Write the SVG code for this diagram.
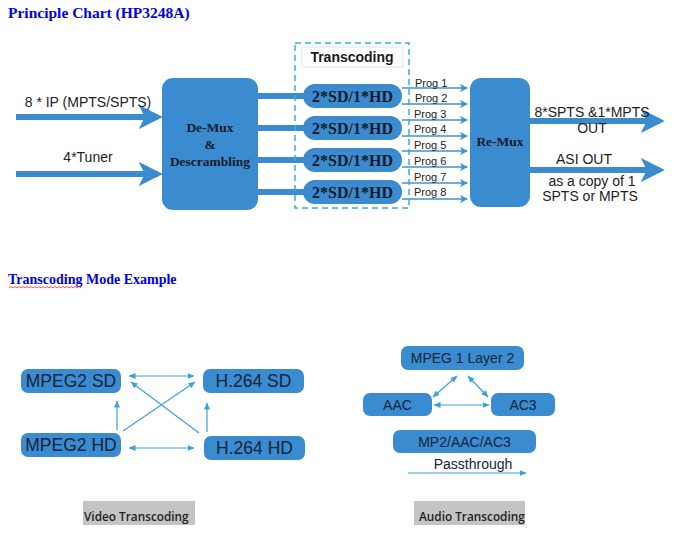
<svg xmlns="http://www.w3.org/2000/svg" width="674" height="538" viewBox="0 0 674 538">
<defs>
<style>
.title{font-family:"Liberation Serif",serif;font-weight:bold;font-size:14px;fill:#0000ee}
.box{fill:#3a8bd0}
.bt{font-family:"Liberation Serif",serif;font-weight:bold;font-size:13.5px;fill:#1a1a2a;text-anchor:middle}
.pill{font-family:"Liberation Serif",serif;font-weight:bold;font-size:16px;fill:#111a2a;text-anchor:middle}
.lab{font-family:"Liberation Sans",Arial,sans-serif;font-size:14px;fill:#222;text-anchor:middle}
.prog{font-family:"Liberation Sans",Arial,sans-serif;font-size:11px;fill:#222}
.thick{stroke:#3a8bd0;stroke-width:6;fill:none}
.thin{stroke:#3b93d8;stroke-width:1.4;fill:none}
.lt{stroke:#3aa2dc;stroke-width:1.2;fill:none}
.vt{font-family:"Liberation Sans",Arial,sans-serif;font-size:17.5px;fill:#14243a;text-anchor:middle}
.at{font-family:"Liberation Sans",Arial,sans-serif;font-size:14px;fill:#14243a;text-anchor:middle}
.cap{font-family:"Open Sans","DejaVu Sans",sans-serif;font-weight:600;font-size:11.8px;fill:#222}
</style>
<marker id="big" markerWidth="4" markerHeight="4" refX="3.2" refY="2" orient="auto" markerUnits="strokeWidth">
<path d="M0,0 L4,2 L0,4 L1,2 z" fill="#3a8bd0"/>
</marker>
<marker id="sm" markerWidth="8" markerHeight="8" refX="7" refY="4" orient="auto" markerUnits="userSpaceOnUse">
<path d="M0,0 L8,4 L0,8 L2,4 z" fill="#3b93d8"/>
</marker>
<marker id="ah" markerWidth="7" markerHeight="6" refX="6.5" refY="3" orient="auto-start-reverse" markerUnits="userSpaceOnUse">
<path d="M0,0 L7,3 L0,6 z" fill="#3aa2dc"/>
</marker>
</defs>
<rect width="674" height="538" fill="#ffffff"/>

<text class="title" x="8" y="18" style="font-size:15.5px">Principle Chart (HP3248A)</text>

<g id="connectors">
<line class="thick" x1="16" y1="117" x2="158" y2="117" marker-end="url(#big)"/>
<line class="thick" x1="16" y1="174" x2="158" y2="174" marker-end="url(#big)"/>
<line class="thick" x1="258" y1="96" x2="305" y2="96"/>
<line class="thick" x1="258" y1="128" x2="305" y2="128"/>
<line class="thick" x1="258" y1="160" x2="305" y2="160"/>
<line class="thick" x1="258" y1="192" x2="305" y2="192"/>
<line class="thin" x1="402" y1="88" x2="467" y2="88" marker-end="url(#sm)"/>
<line class="thin" x1="402" y1="104" x2="467" y2="104" marker-end="url(#sm)"/>
<line class="thin" x1="402" y1="120" x2="467" y2="120" marker-end="url(#sm)"/>
<line class="thin" x1="402" y1="136" x2="467" y2="136" marker-end="url(#sm)"/>
<line class="thin" x1="402" y1="151" x2="467" y2="151" marker-end="url(#sm)"/>
<line class="thin" x1="402" y1="167" x2="467" y2="167" marker-end="url(#sm)"/>
<line class="thin" x1="402" y1="183" x2="467" y2="183" marker-end="url(#sm)"/>
<line class="thin" x1="402" y1="199" x2="467" y2="199" marker-end="url(#sm)"/>
<line class="thick" x1="530" y1="121" x2="660" y2="121" marker-end="url(#big)"/>
<line class="thick" x1="530" y1="170" x2="660" y2="170" marker-end="url(#big)"/>

<line class="lt" x1="129" y1="376" x2="194" y2="376" marker-start="url(#ah)" marker-end="url(#ah)"/>
<line class="lt" x1="129" y1="448" x2="194" y2="448" marker-start="url(#ah)" marker-end="url(#ah)"/>
<line class="lt" x1="117" y1="430" x2="117" y2="401" marker-end="url(#ah)"/>
<line class="lt" x1="207" y1="432" x2="207" y2="403" marker-end="url(#ah)"/>
<line class="lt" x1="123" y1="431" x2="195" y2="382" marker-end="url(#ah)"/>
<line class="lt" x1="199" y1="433" x2="131" y2="382" marker-end="url(#ah)"/>

<line class="lt" x1="434" y1="405" x2="489" y2="405" marker-start="url(#ah)" marker-end="url(#ah)"/>
<line class="lt" x1="457" y1="376" x2="433" y2="397" marker-start="url(#ah)" marker-end="url(#ah)"/>
<line class="lt" x1="468" y1="376" x2="488" y2="397" marker-start="url(#ah)" marker-end="url(#ah)"/>
<line class="lt" x1="408" y1="473" x2="526" y2="473" marker-end="url(#ah)"/>
</g>

<text class="lab" x="88" y="107">8 * IP (MPTS/SPTS)</text>
<text class="lab" x="88" y="162">4*Tuner</text>

<g id="demux">
<rect class="box" x="162" y="78" width="96" height="132" rx="11"/>
<text class="bt" x="210" y="132">De-Mux</text>
<text class="bt" x="210" y="149">&amp;</text>
<text class="bt" x="210" y="166">Descrambling</text>
</g>

<g id="transcoding">
<rect x="295" y="43" width="114" height="165" fill="none" stroke="#2fb0e6" stroke-width="1.5" stroke-dasharray="6,4"/>
<rect x="302" y="47" width="101" height="20" fill="#fff" stroke="#d8e8f0" stroke-width="1"/>
<text x="352" y="62" font-family="Liberation Sans, Arial, sans-serif" font-weight="bold" font-size="14" fill="#1a1a1a" text-anchor="middle">Transcoding</text>
</g>

<g id="tc1"><rect class="box" x="303" y="84" width="99" height="24" rx="12"/><text class="pill" x="352.5" y="102">2*SD/1*HD</text></g>
<g id="tc2"><rect class="box" x="303" y="116" width="99" height="24" rx="12"/><text class="pill" x="352.5" y="134">2*SD/1*HD</text></g>
<g id="tc3"><rect class="box" x="303" y="148" width="99" height="24" rx="12"/><text class="pill" x="352.5" y="166">2*SD/1*HD</text></g>
<g id="tc4"><rect class="box" x="303" y="180" width="99" height="24" rx="12"/><text class="pill" x="352.5" y="198">2*SD/1*HD</text></g>

<g id="prog-labels">
<text class="prog" x="415" y="87">Prog 1</text>
<text class="prog" x="415" y="102">Prog 2</text>
<text class="prog" x="414" y="118">Prog 3</text>
<text class="prog" x="414" y="133">Prog 4</text>
<text class="prog" x="414" y="149">Prog 5</text>
<text class="prog" x="414" y="165">Prog 6</text>
<text class="prog" x="414" y="181">Prog 7</text>
<text class="prog" x="414" y="196">Prog 8</text>
</g>

<g id="remux">
<rect class="box" x="470" y="78" width="60" height="129" rx="11"/>
<text class="bt" x="500" y="146">Re-Mux</text>
</g>

<text class="lab" x="592" y="117">8*SPTS &amp;1*MPTS</text>
<text class="lab" x="592" y="133">OUT</text>
<text class="lab" x="584" y="164">ASI OUT</text>
<text class="lab" x="592" y="186">as a copy of 1</text>
<text class="lab" x="590" y="201">SPTS or MPTS</text>

<text class="title" x="8" y="284">Transcoding Mode Example</text>
<path d="M9,288 l2,-1.5 l2,1.5 l2,-1.5 l2,1.5 l2,-1.5 l2,1.5 l2,-1.5 l2,1.5 l2,-1.5 l2,1.5 l2,-1.5 l2,1.5 l2,-1.5 l2,1.5 l2,-1.5 l2,1.5 l2,-1.5 l2,1.5 l2,-1.5 l2,1.5 l2,-1.5 l2,1.5 l2,-1.5 l2,1.5 l2,-1.5 l2,1.5 l2,-1.5 l2,1.5 l2,-1.5 l2,1.5 l2,-1.5 l2,1.5 l2,-1.5 l2,1.5 l2,-1.5 l2,1.5" fill="none" stroke="#e03030" stroke-width="0.8"/>

<g id="mpeg2sd"><rect class="box" x="21" y="369" width="100" height="24" rx="7"/><text class="vt" x="71" y="387">MPEG2 SD</text></g>
<g id="h264sd"><rect class="box" x="203" y="369" width="101" height="24" rx="7"/><text class="vt" x="253.5" y="387">H.264 SD</text></g>
<g id="mpeg2hd"><rect class="box" x="21" y="433" width="100" height="24" rx="7"/><text class="vt" x="71" y="451">MPEG2 HD</text></g>
<g id="h264hd"><rect class="box" x="204" y="436" width="101" height="24" rx="7"/><text class="vt" x="254.5" y="454">H.264 HD</text></g>

<g id="video-caption"><rect x="83" y="501" width="112" height="24" fill="#c4c4c4"/><text class="cap" x="84" y="521">Video Transcoding</text></g>

<g id="mpeg1l2"><rect class="box" x="401" y="346" width="123" height="24" rx="7"/><text class="at" x="462.5" y="363">MPEG 1 Layer 2</text></g>
<g id="aac"><rect class="box" x="363" y="393" width="69" height="23" rx="7"/><text class="at" x="397.5" y="410">AAC</text></g>
<g id="ac3"><rect class="box" x="491" y="393" width="64" height="23" rx="7"/><text class="at" x="523" y="410">AC3</text></g>
<g id="mp2aacac3"><rect class="box" x="393" y="430" width="143" height="23" rx="7"/><text class="at" x="464.5" y="447">MP2/AAC/AC3</text></g>
<text class="at" x="473" y="469">Passthrough</text>

<g id="audio-caption"><rect x="414" y="501" width="111" height="24" fill="#c4c4c4"/><text class="cap" x="419" y="521">Audio Transcoding</text></g>
</svg>
